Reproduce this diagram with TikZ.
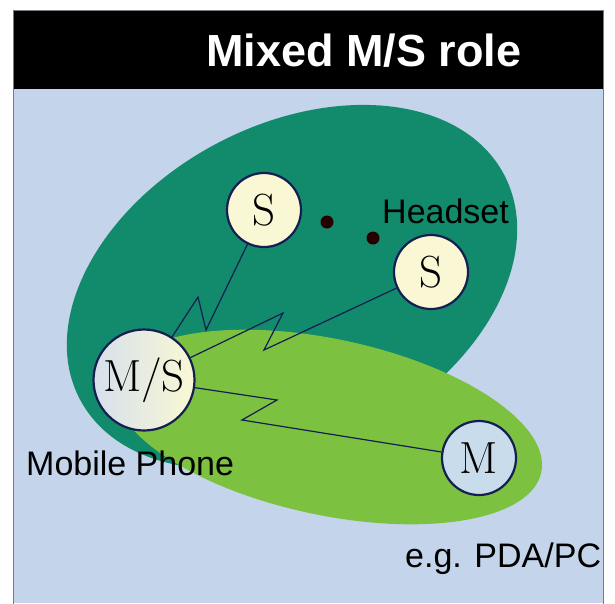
\documentclass[tikz,border=0pt]{standalone}
\usepackage{fontspec}
\setsansfont{Liberation Sans}
\usepackage{tikz}

\definecolor{sky}{RGB}{196,212,234}
\definecolor{piconet}{RGB}{18,138,108}
\definecolor{scatter}{RGB}{124,194,64}
\definecolor{navy}{RGB}{20,30,80}
\definecolor{cream}{RGB}{250,248,212}
\definecolor{pale}{RGB}{200,220,236}
\definecolor{mist}{RGB}{214,224,236}
\definecolor{rim}{RGB}{120,124,134}

\begin{document}
\begin{tikzpicture}[x=1pt,y=-1pt,
		station/.style={circle,draw=navy,line width=2.2pt,inner sep=0pt,
			font=\fontsize{45}{45}\selectfont},
		slave/.style={station,fill=cream,minimum size=74pt},
		master/.style={station,fill=pale,minimum size=74pt},
		mixed/.style={station,left color=mist,right color=cream,minimum size=101pt},
		link/.style={draw=navy,line width=1.2pt},
		devtext/.style={anchor=base west,inner sep=0pt,
			font=\sffamily\fontsize{34}{34}\selectfont}]

	\useasboundingbox (0,0) rectangle (615,603);

	% frame and title bar
	\fill[sky] (13,10) rectangle (603,603);
	\fill[black] (13,10) rectangle (603,89);
	\draw[rim,line width=1pt] (13,606) -- (13,10) -- (603,10) -- (603,606);
	\node[anchor=base west,inner sep=0pt,text=white,
		font=\sffamily\bfseries\fontsize{45}{45}\selectfont] (title) at (206,66) {Mixed M/S role};

	% the two piconets
	\fill[piconet,rotate around={28:(292,287)}] (292,287) ellipse [x radius=240,y radius=162];
	\fill[scatter,rotate around={-12:(328,427)}] (328,427) ellipse [x radius=218,y radius=88];

	\node [mixed] (phone) at (144,380) {M/S};
	\node [slave] (headA) at (264,210) {S};
	\node [slave] (headB) at (431,272) {S};
	\node [master] (pda) at (479,458) {M};

	% radio links
	\draw[link] (headA) -- (206,330) -- (198,297) -- (phone);
	\draw[link] (headB) -- (264,350) -- (283,313) -- (phone);
	\draw[link] (phone) -- (277,400) -- (242,420) -- (pda);

	\fill[black!85!red] (327,222) circle (6.5) (373,238) circle (6.5);

	\node [devtext] (headset) at (382,223) {Headset};
	\node [devtext] (mobile) at (26,475) {Mobile Phone};
	\node [devtext] (other) at (405,567) {e.g. PDA/PC};

\end{tikzpicture}
\end{document}
